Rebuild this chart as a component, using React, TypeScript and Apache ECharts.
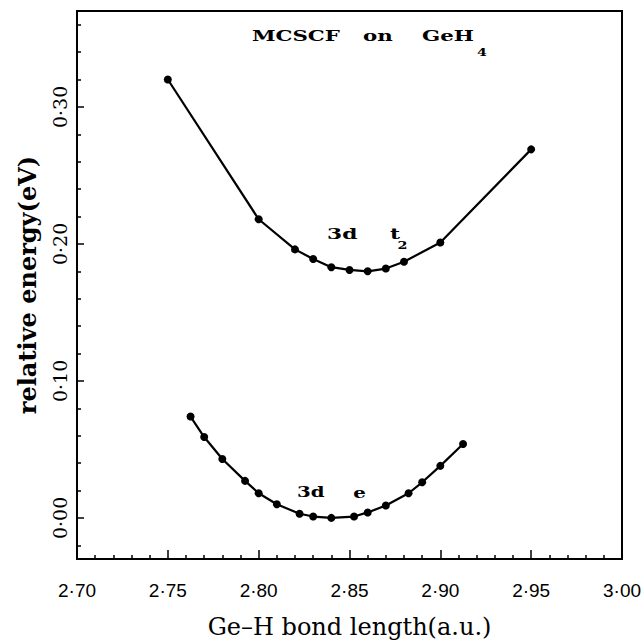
import React, { useEffect, useRef } from "react";
import * as echarts from "echarts";

// Upper curve (3d t2)
const t2X = [2.75, 2.80, 2.82, 2.83, 2.84, 2.85, 2.86, 2.87, 2.88, 2.90, 2.95];
const t2Y = [0.320, 0.218, 0.196, 0.189, 0.183, 0.181, 0.180, 0.182, 0.187, 0.201, 0.269];

// Lower curve (3d e)
const eX = [2.7625, 2.77, 2.78, 2.7925, 2.80, 2.81, 2.8225, 2.83, 2.84, 2.8525, 2.86, 2.87, 2.8825, 2.89, 2.90, 2.9125];
const eY = [0.074, 0.059, 0.043, 0.027, 0.018, 0.010, 0.003, 0.001, 0.000, 0.001, 0.004, 0.009, 0.018, 0.026, 0.038, 0.054];

// Axis ticks
const xMajor = [2.70, 2.75, 2.80, 2.85, 2.90, 2.95, 3.00];
const xMinor = [2.71, 2.72, 2.73, 2.74, 2.76, 2.77, 2.78, 2.79, 2.81, 2.82, 2.83, 2.84, 2.86, 2.87, 2.88, 2.89, 2.91, 2.92, 2.93, 2.94, 2.96, 2.97, 2.98, 2.99];
const yMajor = [0.00, 0.10, 0.20, 0.30];
const yMinor = [-0.02, 0.02, 0.04, 0.06, 0.08, 0.12, 0.14, 0.16, 0.18, 0.22, 0.24, 0.26, 0.28, 0.32, 0.34, 0.36];

const X_MIN = 2.70, X_MAX = 3.00, Y_MIN = -0.03, Y_MAX = 0.37;

const fmt = (v: number) => v.toFixed(2).replace(".", "\u00b7");

export default function App() {
  const ref = useRef<HTMLDivElement>(null);
  useEffect(() => {
    if (!ref.current) return;
    const chart = echarts.init(ref.current, null, { renderer: "svg" });
    const serif = "'DejaVu Serif', serif";
    const lineCol = "#000";
    const lbl = (text: string, x: number, y: number, size: number, sx: number, align = "left") => ({
      type: "text", x, y, scaleX: sx,
      style: { text, fontFamily: serif, fontWeight: "bold", fontSize: size, fill: "#000", textAlign: align, textVerticalAlign: "middle" },
    });
    const option: any = {
      animation: false,
      backgroundColor: "#fff",
      grid: {
        left: 77, right: 21, top: 11, bottom: 81,
        containLabel: false, outerBoundsMode: "none",
        show: true, borderColor: lineCol, borderWidth: 2, backgroundColor: "transparent",
      },
      xAxis: [
        {
          type: "value", min: X_MIN, max: X_MAX, position: "bottom",
          name: "Ge\u2013H bond length(a.u.)", nameLocation: "middle", nameGap: 56,
          nameTextStyle: { fontFamily: serif, fontSize: 24, color: "#000" },
          axisLine: { show: true, onZero: false, lineStyle: { color: lineCol, width: 2 } },
          axisTick: { show: true, inside: true, length: 9, customValues: xMajor, lineStyle: { color: lineCol, width: 1.5 } },
          axisLabel: { show: true, customValues: xMajor, showMinLabel: true, showMaxLabel: true, margin: 22, formatter: fmt, fontFamily: "'Liberation Sans', Arial, sans-serif", fontSize: 19, color: "#000" },
          splitLine: { show: false },
        },
        {
          type: "value", min: X_MIN, max: X_MAX, position: "bottom", offset: 0,
          axisLine: { show: false, onZero: false },
          axisTick: { show: true, inside: true, length: 4, customValues: xMinor, lineStyle: { color: lineCol, width: 1.5 } },
          axisLabel: { show: false },
          splitLine: { show: false },
        },
      ],
      yAxis: [
        {
          type: "value", min: Y_MIN, max: Y_MAX, position: "left",
          name: "relative energy(eV)", nameLocation: "middle", nameGap: 38,
          nameTextStyle: { fontFamily: serif, fontWeight: "bold", fontSize: 24, color: "#000" },
          axisLine: { show: true, onZero: false, lineStyle: { color: lineCol, width: 2 } },
          axisTick: { show: true, inside: true, length: 7, customValues: yMajor, lineStyle: { color: lineCol, width: 1.5 } },
          axisLabel: { show: true, customValues: yMajor, rotate: 90, margin: 8, formatter: fmt, fontFamily: serif, fontSize: 19, color: "#000" },
          splitLine: { show: false },
        },
        {
          type: "value", min: Y_MIN, max: Y_MAX, position: "left", offset: 0,
          axisLine: { show: false, onZero: false },
          axisTick: { show: true, inside: true, length: 4, customValues: yMinor, lineStyle: { color: lineCol, width: 1.5 } },
          axisLabel: { show: false },
          splitLine: { show: false },
        },
      ],
      series: [
        {
          name: "3d t2", type: "line", xAxisIndex: 0, yAxisIndex: 0,
          data: t2X.map((x, i) => [x, t2Y[i]]),
          symbol: "circle", symbolSize: 8,
          lineStyle: { color: lineCol, width: 2.2 }, itemStyle: { color: lineCol },
        },
        {
          name: "3d e", type: "line", xAxisIndex: 0, yAxisIndex: 0,
          data: eX.map((x, i) => [x, eY[i]]),
          symbol: "circle", symbolSize: 8,
          lineStyle: { color: lineCol, width: 2.2 }, itemStyle: { color: lineCol },
        },
      ],
      graphic: [
        lbl("MCSCF", 252, 36, 15, 1.42),
        lbl("on", 363, 36, 15, 1.42),
        lbl("GeH", 422, 36, 15, 1.42),
        lbl("4", 482, 52, 11, 1.3, "center"),
        lbl("3d", 327, 233, 15, 1.45),
        lbl("t", 395, 233, 15, 1.45, "center"),
        lbl("2", 402.5, 245, 11, 1.3, "center"),
        lbl("3d", 297, 492, 15, 1.32),
        lbl("e", 359.5, 493, 15, 1.32, "center"),
      ],
    };
    chart.setOption(option);
    return () => chart.dispose();
  }, []);
  return <div ref={ref} style={{ position: "absolute", left: 0, top: 0, width: 643, height: 640 }} />;
}
